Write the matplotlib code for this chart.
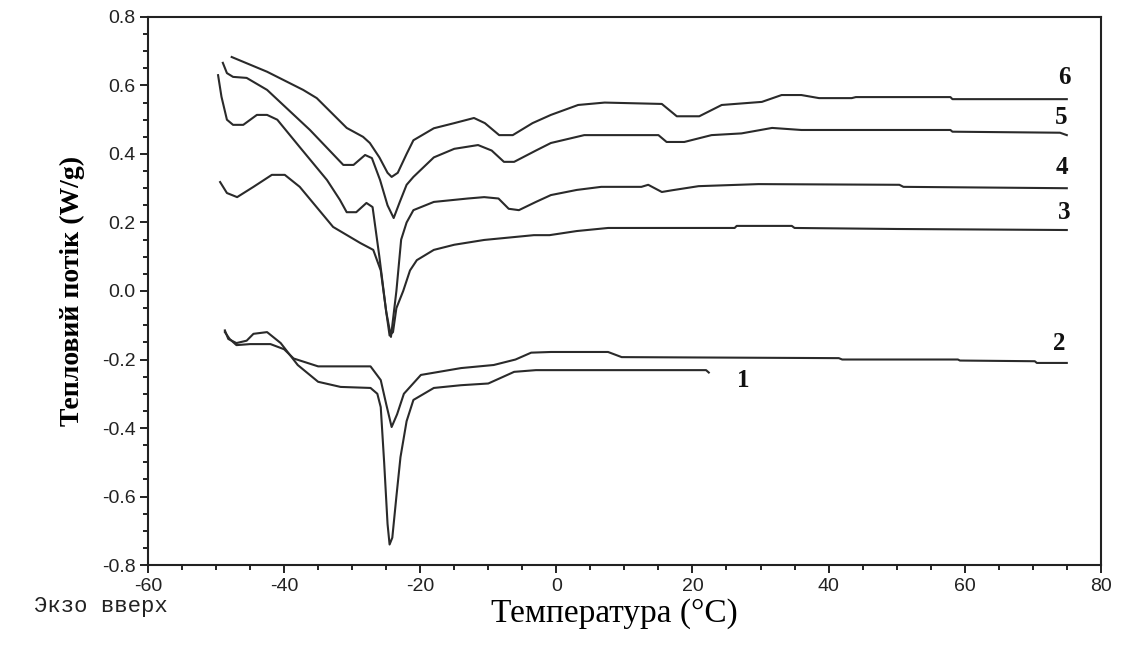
import matplotlib
matplotlib.use('Agg')
import matplotlib.pyplot as plt
from matplotlib.ticker import MultipleLocator

plt.rcParams['axes.unicode_minus'] = False

# DSC curves: temperature (C) and heat flow (W/g)
t1 = [-48.7, -48.2, -47, -45.5, -44.5, -42.5, -40.5, -38, -35, -31.7, -27.3, -26.3,
      -25.8, -25.3, -24.8, -24.5, -24.1, -23.5, -22.9, -22, -21, -18, -14, -10,
      -6.2, -3, 22, 22.4]
w1 = [-0.115, -0.14, -0.152, -0.145, -0.125, -0.12, -0.152, -0.216, -0.265, -0.28,
      -0.283, -0.30, -0.339, -0.5, -0.68, -0.74, -0.72, -0.6, -0.485, -0.38, -0.318,
      -0.283, -0.275, -0.27, -0.236, -0.231, -0.231, -0.238]

t2 = [-48.7, -48, -47, -45, -42, -40, -38.6, -35, -27.3, -25.8, -25, -24.2, -23.4,
      -22.4, -19.9, -14, -9.2, -6, -3.7, -0.8, 7.6, 9.6, 41.5, 42, 59, 59.3, 70.3,
      70.6, 75]
w2 = [-0.12, -0.14, -0.158, -0.155, -0.155, -0.17, -0.197, -0.22, -0.22, -0.26,
      -0.33, -0.397, -0.36, -0.30, -0.245, -0.225, -0.216, -0.2, -0.18, -0.178,
      -0.178, -0.193, -0.196, -0.2, -0.2, -0.203, -0.205, -0.21, -0.21]

t3 = [-49.4, -48.4, -46.9, -44.5, -41.8, -39.9, -37.7, -32.8, -28.8, -26.9, -25.8,
      -25, -24.5, -24, -23.5, -22.5, -21.5, -20.5, -18, -15, -10.6, -3.3, -1, 3,
      7.6, 26.2, 26.5, 34.6, 35, 50, 75]
w3 = [0.318, 0.286, 0.274, 0.304, 0.339, 0.339, 0.304, 0.187, 0.14, 0.12, 0.06,
      -0.06, -0.13, -0.12, -0.05, 0.0, 0.06, 0.09, 0.12, 0.135, 0.149, 0.163, 0.163,
      0.175, 0.184, 0.184, 0.19, 0.19, 0.184, 0.181, 0.178]

t4 = [-49.7, -49.2, -48.4, -47.5, -46, -44, -42.5, -41, -37.7, -33.7, -31.8, -30.8,
      -29.4, -27.9, -27, -26, -25, -24.3, -23.5, -22.8, -22, -21, -18, -13, -10.6,
      -8.5, -7, -5.5, -3, -0.8, 3, 6.6, 12.5, 13.5, 15.5, 17, 20.9, 29.7, 50.4, 51, 75]
w4 = [0.63, 0.567, 0.5, 0.485, 0.485, 0.514, 0.514, 0.5, 0.42, 0.324, 0.266, 0.23,
      0.23, 0.257, 0.245, 0.1, -0.06, -0.134, 0.0, 0.15, 0.2, 0.236, 0.26, 0.27,
      0.274, 0.27, 0.24, 0.236, 0.26, 0.28, 0.295, 0.304, 0.304, 0.31, 0.289, 0.294,
      0.306, 0.312, 0.31, 0.304, 0.3]

t5 = [-49, -48.4, -47.5, -45.5, -42.5, -36.2, -31.3, -29.8, -28.1, -27.1, -25.9,
      -24.8, -23.9, -23, -22, -21, -18, -15, -11.5, -9.5, -7.7, -6.2, -3, -0.8, 4.1,
      15, 16.2, 18.8, 22.8, 27.2, 31.7, 36, 57.9, 58.2, 74, 75]
w5 = [0.666, 0.636, 0.625, 0.622, 0.587, 0.47, 0.368, 0.368, 0.397, 0.388, 0.324,
      0.25, 0.213, 0.26, 0.31, 0.333, 0.39, 0.415, 0.426, 0.41, 0.377, 0.377, 0.41,
      0.432, 0.455, 0.455, 0.435, 0.435, 0.455, 0.46, 0.476, 0.47, 0.47, 0.465,
      0.462, 0.455]

t6 = [-47.7, -42.5, -37.2, -35.2, -30.8, -28.4, -27.4, -26, -24.8, -24.2, -23.3,
      -22, -21, -18, -15, -12.1, -10.5, -8.4, -6.4, -3.5, -0.8, 3.2, 7.1, 15.5, 17.7,
      21, 24.3, 30.2, 33.1, 36, 38.6, 43.4, 44, 57.9, 58.2, 75]
w6 = [0.683, 0.64, 0.587, 0.563, 0.476, 0.45, 0.432, 0.39, 0.345, 0.333, 0.345,
      0.40, 0.44, 0.475, 0.49, 0.505, 0.49, 0.455, 0.455, 0.49, 0.514, 0.543, 0.55,
      0.546, 0.51, 0.51, 0.543, 0.552, 0.572, 0.572, 0.563, 0.563, 0.566, 0.566,
      0.56, 0.56]

curves = [(t1, w1), (t2, w2), (t3, w3), (t4, w4), (t5, w5), (t6, w6)]
labels = ['1', '2', '3', '4', '5', '6']
label_x = [26.5, 73.0, 73.7, 73.3, 73.3, 73.7]
label_y = [-0.262, -0.152, 0.228, 0.36, 0.505, 0.622]

fig = plt.figure(figsize=(11.21, 6.51), dpi=100)
ax = fig.add_axes([0.132, 0.132, 0.85, 0.842])

for t, w in curves:
    ax.plot(t, w, color='#2a2a2a', lw=1.5)

for lab, lx, ly in zip(labels, label_x, label_y):
    ax.text(lx, ly, lab, fontsize=18, family='Liberation Serif',
            fontweight='bold', ha='left', va='center', color='#111111')

ax.set_xlim(-60, 80)
ax.set_ylim(-0.8, 0.8)
ax.xaxis.set_major_locator(MultipleLocator(20))
ax.xaxis.set_minor_locator(MultipleLocator(5))
ax.yaxis.set_major_locator(MultipleLocator(0.2))
ax.yaxis.set_minor_locator(MultipleLocator(0.05))
ax.yaxis.set_major_formatter(plt.FuncFormatter(lambda v, p: '%.1f' % v))
ax.tick_params(which='both', direction='out', top=False, right=False,
               labelsize=14, width=1.4, colors='#222222')
ax.tick_params(which='major', length=6, pad=3)
ax.tick_params(which='minor', length=3.5)
for lab in ax.get_xticklabels() + ax.get_yticklabels():
    lab.set_family('Liberation Sans')
for s in ax.spines.values():
    s.set_linewidth(1.5)
    s.set_color('#222222')

ax.set_xlabel('Температура (°C)', fontsize=24, family='Liberation Serif',
              labelpad=6)
ax.xaxis.set_label_coords(0.49, -0.06)
ax.set_ylabel('Тепловий потік (W/g)', fontsize=20, family='Liberation Serif',
              fontweight='bold', labelpad=12)
fig.text(0.03, 0.068, 'Экзо вверх', fontsize=16, family='Liberation Mono',
         va='center', color='#222222')

fig.savefig('out.png', dpi=100)
